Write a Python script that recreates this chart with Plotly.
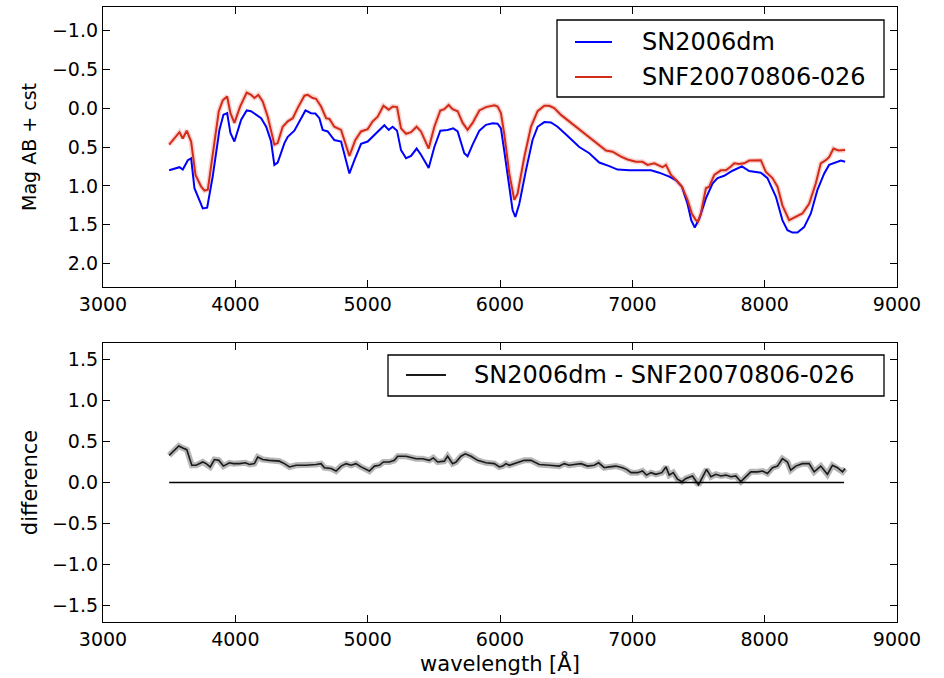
import plotly.graph_objects as go

# ---------------- data ----------------
wl_blue = [3500, 3578, 3603, 3641, 3666, 3691, 3754, 3787, 3829, 3880, 3910, 3938, 3963, 3993,
           4044, 4086, 4119, 4157, 4195, 4233, 4270, 4295, 4320, 4371, 4396, 4446, 4484, 4530,
           4572, 4605, 4635, 4660, 4698, 4748, 4799, 4862, 4900, 4950, 5000, 5051, 5126, 5159,
           5189, 5222, 5252, 5290, 5328, 5370, 5403, 5461, 5504, 5549, 5604, 5647, 5680, 5730,
           5755, 5793, 5844, 5894, 5944, 5982, 6007, 6032, 6070, 6095, 6116, 6146, 6196, 6246,
           6284, 6335, 6385, 6435, 6499, 6599, 6675, 6750, 6826, 6888, 6977, 7077, 7141, 7203,
           7279, 7329, 7375, 7417, 7445, 7472, 7506, 7556, 7606, 7644, 7694, 7757, 7828, 7883,
           7933, 7971, 8021, 8085, 8134, 8172, 8210, 8248, 8298, 8349, 8399, 8450, 8487, 8538,
           8576, 8608]
mag_sn2006dm = [0.80, 0.76, 0.79, 0.67, 0.645, 1.03, 1.29, 1.28, 0.88, 0.28, 0.086, 0.065, 0.32, 0.43,
                0.15, 0.03, 0.04, 0.087, 0.13, 0.24, 0.43, 0.73, 0.70, 0.45, 0.37, 0.29, 0.17, 0.03,
                0.065, 0.07, 0.13, 0.28, 0.30, 0.41, 0.43, 0.84, 0.67, 0.46, 0.43, 0.34, 0.22, 0.28,
                0.24, 0.29, 0.54, 0.645, 0.615, 0.52, 0.60, 0.77, 0.50, 0.29, 0.28, 0.26, 0.30, 0.58,
                0.62, 0.47, 0.29, 0.215, 0.195, 0.20, 0.26, 0.55, 1.05, 1.31, 1.40, 1.23, 0.80, 0.41,
                0.24, 0.18, 0.185, 0.24, 0.34, 0.50, 0.58, 0.70, 0.745, 0.79, 0.80, 0.805, 0.80, 0.83,
                0.88, 0.925, 1.01, 1.23, 1.44, 1.535, 1.42, 1.16, 0.97, 0.90, 0.87, 0.805, 0.75, 0.81,
                0.82, 0.83, 0.90, 1.14, 1.44, 1.57, 1.60, 1.60, 1.53, 1.355, 1.05, 0.84, 0.73, 0.70,
                0.675, 0.69]

wl_red = [3500, 3578, 3603, 3633, 3666, 3699, 3742, 3767, 3792, 3829, 3875, 3905, 3938, 3963,
          3993, 4036, 4086, 4119, 4144, 4174, 4207, 4245, 4295, 4320, 4358, 4396, 4434, 4471,
          4522, 4547, 4585, 4610, 4648, 4686, 4711, 4748, 4799, 4862, 4907, 4950, 5000, 5038,
          5076, 5119, 5159, 5189, 5222, 5252, 5290, 5328, 5370, 5403, 5461, 5504, 5549, 5579,
          5612, 5642, 5680, 5718, 5755, 5793, 5844, 5894, 5957, 5982, 6007, 6032, 6070, 6108,
          6133, 6184, 6234, 6284, 6335, 6372, 6410, 6461, 6523, 6599, 6675, 6750, 6801, 6851,
          6914, 6964, 7027, 7077, 7115, 7166, 7228, 7254, 7292, 7329, 7375, 7417, 7450, 7480,
          7495, 7518, 7556, 7581, 7619, 7669, 7707, 7745, 7770, 7808, 7845, 7883, 7971, 8009,
          8059, 8097, 8134, 8185, 8235, 8285, 8336, 8386, 8424, 8462, 8487, 8520, 8557, 8608]
mag_snf = [0.47, 0.31, 0.39, 0.29, 0.43, 0.86, 1.01, 1.06, 1.05, 0.62, 0.04, -0.10, -0.15, 0.065,
           0.19, -0.02, -0.20, -0.17, -0.13, -0.17, -0.085, 0.11, 0.47, 0.45, 0.24, 0.17, 0.13, 0.0,
           -0.16, -0.17, -0.13, -0.12, -0.02, 0.13, 0.14, 0.24, 0.28, 0.615, 0.41, 0.30, 0.27, 0.17,
           0.11, -0.03, 0.02, -0.02, -0.013, 0.26, 0.33, 0.31, 0.24, 0.30, 0.52, 0.24, 0.03, 0.013,
           -0.04, 0.013, 0.04, 0.19, 0.28, 0.19, 0.03, -0.013, -0.035, -0.02, 0.065, 0.33, 0.84, 1.18,
           1.10, 0.625, 0.24, 0.04, -0.03, -0.03, 0.0, 0.087, 0.17, 0.27, 0.37, 0.47, 0.545, 0.56,
           0.625, 0.66, 0.69, 0.69, 0.73, 0.71, 0.76, 0.73, 0.86, 0.92, 1.01, 1.18, 1.36, 1.44,
           1.46, 1.355, 1.03, 1.01, 0.86, 0.80, 0.80, 0.75, 0.71, 0.72, 0.71, 0.675, 0.67, 0.82,
           0.90, 1.01, 1.25, 1.44, 1.40, 1.355, 1.23, 0.97, 0.71, 0.67, 0.63, 0.52, 0.545, 0.54]

wl_diff = [3500, 3540, 3573, 3603, 3633, 3671, 3704, 3754, 3780, 3810, 3842, 3875, 3910, 3955,
           3986, 4031, 4076, 4107, 4144, 4169, 4207, 4257, 4333, 4371, 4409, 4459, 4535, 4610,
           4648, 4673, 4724, 4761, 4799, 4837, 4874, 4912, 4950, 5013, 5051, 5088, 5119, 5164,
           5202, 5227, 5290, 5366, 5415, 5466, 5496, 5529, 5579, 5604, 5642, 5668, 5705, 5738,
           5781, 5831, 5894, 5957, 5995, 6020, 6045, 6070, 6121, 6184, 6234, 6297, 6372, 6448,
           6486, 6523, 6561, 6612, 6662, 6712, 6745, 6788, 6826, 6876, 6926, 6956, 6990, 7040,
           7077, 7107, 7141, 7178, 7223, 7254, 7279, 7309, 7341, 7375, 7405, 7455, 7500, 7530,
           7561, 7594, 7631, 7669, 7707, 7745, 7782, 7820, 7858, 7896, 7946, 7984, 8021, 8059,
           8097, 8134, 8172, 8197, 8235, 8285, 8336, 8374, 8424, 8474, 8512, 8550, 8588, 8608]
difference = [0.33, 0.39, 0.445, 0.42, 0.40, 0.21, 0.21, 0.25, 0.23, 0.19, 0.28, 0.27, 0.20, 0.24,
              0.23, 0.23, 0.24, 0.22, 0.23, 0.31, 0.28, 0.27, 0.26, 0.23, 0.19, 0.21, 0.21, 0.22,
              0.23, 0.18, 0.17, 0.14, 0.20, 0.23, 0.21, 0.23, 0.19, 0.14, 0.20, 0.21, 0.25, 0.25,
              0.27, 0.32, 0.32, 0.29, 0.29, 0.27, 0.30, 0.25, 0.26, 0.32, 0.23, 0.25, 0.32, 0.35,
              0.32, 0.27, 0.24, 0.23, 0.19, 0.20, 0.23, 0.21, 0.24, 0.27, 0.27, 0.22, 0.21, 0.20,
              0.23, 0.21, 0.22, 0.23, 0.20, 0.21, 0.24, 0.18, 0.19, 0.20, 0.18, 0.16, 0.12, 0.12,
              0.14, 0.09, 0.12, 0.10, 0.12, 0.19, 0.09, 0.12, 0.04, 0.01, 0.05, 0.08, -0.03, 0.07,
              0.16, 0.07, 0.10, 0.08, 0.09, 0.07, 0.08, 0.01, 0.07, 0.13, 0.13, 0.14, 0.11, 0.18,
              0.20, 0.29, 0.25, 0.15, 0.20, 0.23, 0.23, 0.13, 0.20, 0.10, 0.21, 0.18, 0.13, 0.17]

zero_wl = [3500, 8600]
zero_val = [0.0, 0.0]

name_a = "SN2006dm"
name_b = "SNF20070806-026"
name_diff = "SN2006dm - SNF20070806-026"

top_ticks = [-1.0, -0.5, 0.0, 0.5, 1.0, 1.5, 2.0]
bot_ticks = [-1.5, -1.0, -0.5, 0.0, 0.5, 1.0, 1.5]
x_ticks = [3000, 4000, 5000, 6000, 7000, 8000, 9000]

# ---------------- figure ----------------
BLUE = "#0000ff"
RED = "#d42a18"
DIFFC = "#1a1a1a"
FONT = "DejaVu Sans"

fig = go.Figure()

# top panel
fig.add_trace(go.Scatter(x=wl_red, y=mag_snf, mode="lines", line=dict(color="rgba(220,60,40,0.22)", width=5),
                         showlegend=False, hoverinfo="skip", xaxis="x", yaxis="y"))
fig.add_trace(go.Scatter(x=wl_blue, y=mag_sn2006dm, mode="lines", name=name_a,
                         line=dict(color=BLUE, width=2), xaxis="x", yaxis="y", showlegend=False))
fig.add_trace(go.Scatter(x=wl_red, y=mag_snf, mode="lines", name=name_b,
                         line=dict(color=RED, width=2), xaxis="x", yaxis="y", showlegend=False))

# bottom panel
fig.add_trace(go.Scatter(x=wl_diff, y=difference, mode="lines", line=dict(color="rgba(110,110,110,0.5)", width=6),
                         showlegend=False, hoverinfo="skip", xaxis="x2", yaxis="y2"))
fig.add_trace(go.Scatter(x=wl_diff, y=difference, mode="lines", name=name_diff,
                         line=dict(color=DIFFC, width=1.6), xaxis="x2", yaxis="y2", showlegend=False))
fig.add_trace(go.Scatter(x=zero_wl, y=zero_val, mode="lines", line=dict(color="black", width=1.6),
                         showlegend=False, hoverinfo="skip", xaxis="x2", yaxis="y2"))

axis_common = dict(showline=True, linecolor="black", linewidth=1.3, mirror="ticks",
                   ticks="inside", ticklen=7, tickwidth=1, tickcolor="black",
                   showgrid=False, zeroline=False, tickfont=dict(family=FONT, size=19, color="black"))

# ---- legend boxes (matplotlib style), in plot-area (paper) coordinates ----
L, R, T, B = 103, 47, 7, 56
W, H = 944, 678
PW, PH = W - L - R, H - T - B


def px(xp):
    return (xp - L) / PW


def py(yp):
    return (H - B - yp) / PH


shapes = []
annotations = []


def legend_box(x0, y0, x1, y1, entries, sample_x0, sample_x1, text_x, fsize):
    shapes.append(dict(type="rect", xref="paper", yref="paper", x0=px(x0), x1=px(x1), y0=py(y1), y1=py(y0),
                       fillcolor="white", line=dict(color="black", width=1.3), layer="above"))
    for label, color, yc in entries:
        shapes.append(dict(type="line", xref="paper", yref="paper", x0=px(sample_x0), x1=px(sample_x1),
                           y0=py(yc), y1=py(yc), line=dict(color=color, width=2), layer="above"))
        annotations.append(dict(text=label, xref="paper", yref="paper", x=px(text_x), y=py(yc),
                                xanchor="left", yanchor="middle", showarrow=False,
                                font=dict(family=FONT, size=fsize, color="black")))


legend_box(557, 20, 884, 97, [(name_a, BLUE, 42), (name_b, RED, 77)], 575, 612, 640, 24)
legend_box(388, 355, 884, 396, [(name_diff, DIFFC, 375)], 406, 446, 472, 24)

fig.update_layout(
    width=W, height=H,
    margin=dict(l=L, r=R, t=T, b=B),
    paper_bgcolor="white", plot_bgcolor="white",
    font=dict(family=FONT, size=18, color="black"),
    xaxis=dict(domain=[0, 1], range=[3000, 9000], tickvals=x_ticks, tickformat="d",
               anchor="y", **axis_common),
    yaxis=dict(domain=[py(287), 1], range=[2.3, -1.3], tickvals=top_ticks, tickformat=".1f",
               anchor="x", title=dict(text="Mag AB + cst", font=dict(family=FONT, size=19), standoff=10),
               **axis_common),
    xaxis2=dict(domain=[0, 1], range=[3000, 9000], tickvals=x_ticks, tickformat="d",
                anchor="y2", title=dict(text="wavelength [Å]", font=dict(family=FONT, size=21), standoff=5),
                **axis_common),
    yaxis2=dict(domain=[0, py(343)], range=[-1.7, 1.7], tickvals=bot_ticks, tickformat=".1f",
                anchor="x2", title=dict(text="difference", font=dict(family=FONT, size=21), standoff=8),
                **axis_common),
    shapes=shapes,
    annotations=annotations,
    showlegend=False,
)

fig.write_html("out.html")
